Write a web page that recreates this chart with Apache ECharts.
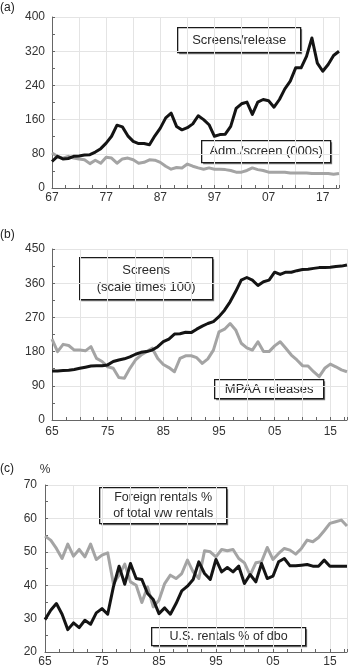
<!DOCTYPE html>
<html>
<head>
<meta charset="utf-8">
<script src="https://cdn.jsdelivr.net/npm/echarts@6/dist/echarts.min.js"></script>
<style>
  html, body { margin: 0; padding: 0; background: #fff; }
  #chart { width: 350px; height: 669px; }
</style>
</head>
<body>
<div id="chart"></div>
<script>
// (a) 1967-2020
var firstYearA = 1967
var screensPerRelease = [62, 74, 68, 69, 74, 75, 77, 78, 84, 92,
  105, 121, 147, 143, 122, 109, 104, 104, 101, 122,
  140, 164, 175, 144, 136, 141, 150, 169, 160, 148,
  121, 125, 126, 144, 186, 197, 201, 172, 201, 207,
  204, 189, 207, 232, 250, 281, 281, 308, 351, 292,
  273, 289, 310, 320]
var admPerScreen = [82, 74, 70, 74, 70, 68, 66, 57, 65, 58,
  72, 70, 58, 68, 70, 66, 58, 60, 66, 65,
  60, 51, 44, 48, 47, 56, 51, 47, 44, 47,
  44, 44, 43, 41, 37, 37, 41, 47, 43, 41,
  37, 37, 37, 37, 35, 35, 35, 35, 34, 34,
  34, 34, 32, 34]

// (b) 1965-2018
var firstYearB = 1965
var screensHundreds = [129, 129, 130, 131, 133, 136, 139, 142, 143, 143,
  145, 154, 158, 161, 166, 173, 178, 180, 184, 193,
  206, 213, 226, 227, 231, 230, 239, 247, 254, 259,
  272, 289, 311, 338, 368, 375, 368, 354, 364, 368,
  389, 383, 389, 389, 393, 396, 397, 399, 401, 401,
  402, 404, 405, 408]
var mpaaReleases = [213, 180, 199, 196, 184, 184, 182, 193, 162, 154,
  140, 136, 112, 110, 136, 158, 171, 180, 189, 162,
  146, 138, 127, 162, 169, 169, 164, 149, 161, 184,
  232, 239, 254, 237, 202, 190, 184, 206, 180, 180,
  195, 206, 189, 171, 158, 143, 142, 127, 114, 136,
  147, 140, 132, 127]

// (c) 1965-2018
var firstYearC = 1965
var foreignShare = [54.7, 53.5, 51, 48, 52.3, 48.7, 50.7, 48.5, 52.3, 47.7,
  49, 49.7, 40.5, 43, 46.3, 41, 40, 34.8, 39.5, 33.5,
  35.5, 40.5, 43, 42, 43.5, 47.5, 44, 42, 50.3, 50,
  48.5, 50.7, 50.3, 50.7, 48, 46.7, 43, 46.7, 47, 51.3,
  47.7, 49.5, 51, 50.5, 49.3, 51, 53.5, 53, 54.3, 56.3,
  58.5, 59, 59.5, 57.7]
var usShare = [29.7, 32.5, 34.5, 31.3, 26.7, 28.7, 27.3, 29.5, 28.3, 31.7,
  33, 31.3, 39.5, 45.7, 40.3, 46.5, 42, 41.7, 37.5, 35.7,
  31.5, 33.2, 31.3, 34.5, 38.3, 39.7, 41.7, 47, 43.5, 41.7,
  47.7, 44, 45.3, 44, 45.7, 40.5, 43.2, 41, 46.5, 42,
  42.7, 47, 48, 45.8, 45.8, 46, 46.2, 45.7, 45.7, 47.5,
  45.7, 45.7, 45.7, 45.7]

var yTicksA = { min: 0, max: 400, interval: 80 }
var yTicksB = { min: 0, max: 450, interval: 90 }
var yTicksC = { min: 20, max: 70, interval: 10 }

var FONT = '"Liberation Sans", Arial, sans-serif'
var BLACK = '#141414'
var GREY = '#a4a4a4'

function pairs(start, values) {
  var out = []
  for (var i = 0; i < values.length; i++) out.push([start + i, values[i]])
  return out
}

// panel (a) uses years counted from 1967, so ticks stay on multiples of 5
function offsetPairs(values) {
  var out = []
  for (var i = 0; i < values.length; i++) out.push([i, values[i]])
  return out
}

function twoDigits(y) {
  var s = String(y % 100)
  return s.length < 2 ? '0' + s : s
}

function xAxis(gridIndex, min, max, labelFn, margin) {
  return {
    type: 'value', gridIndex: gridIndex, min: min, max: max, interval: 5,
    axisLine: { onZero: false, lineStyle: { color: '#666', width: 1 } },
    axisTick: { inside: true, length: 3, lineStyle: { color: '#666' } },
    minorTick: { show: true, splitNumber: 2, length: 3, lineStyle: { color: '#666' } },
    splitLine: { show: true, lineStyle: { color: '#e4e4e4', width: 1 } },
    axisLabel: { formatter: labelFn, color: '#333', fontSize: 12, fontFamily: FONT, margin: margin }
  }
}

function yAxis(gridIndex, ticks, margin) {
  return {
    type: 'value', gridIndex: gridIndex, min: ticks.min, max: ticks.max, interval: ticks.interval,
    axisLine: { show: true, lineStyle: { color: '#666', width: 1 } },
    axisTick: { show: true, inside: true, length: 3, lineStyle: { color: '#666' } },
    minorTick: { show: true, splitNumber: 2, length: 3, lineStyle: { color: '#666' } },
    splitLine: { show: true, lineStyle: { color: '#e4e4e4', width: 1 } },
    axisLabel: { color: '#333', fontSize: 12, fontFamily: FONT, margin: margin }
  }
}

function line(name, axisIndex, data, color) {
  return {
    name: name, type: 'line', xAxisIndex: axisIndex, yAxisIndex: axisIndex,
    data: data, symbol: 'none', animation: false,
    lineStyle: { color: color, width: 3, join: 'round' },
    z: color === BLACK ? 4 : 3
  }
}

// white label box (text box with its own border) over a grey offset edge
function box(x, y, w, h, text, size) {
  return {
    type: 'group', left: x, top: y, z: 100,
    children: [
      {
        type: 'rect', shape: { x: 1.5, y: 1.5, width: w, height: h },
        style: { fill: '#7a7a7a' }
      },
      {
        type: 'rect', shape: { x: 0, y: 0, width: w, height: h },
        style: { fill: '#fff', stroke: '#1a1a1a', lineWidth: 1.3 },
        textContent: {
          style: { text: text, fill: '#2a2a2a', fontSize: size, fontFamily: FONT,
            align: 'center', lineHeight: size + 4 }
        },
        textConfig: { position: 'inside' }
      }
    ]
  }
}

function panelLabel(x, y, text) {
  return { type: 'text', left: x, top: y, style: { text: text, fill: '#222', font: '12px ' + FONT } }
}

var chart = echarts.init(document.getElementById('chart'), null, { renderer: 'canvas' })

chart.setOption({
  backgroundColor: '#fff',
  animation: false,
  grid: [
    { left: 52, top: 17, width: 287, height: 171 },
    { left: 52, top: 249, width: 296, height: 171 },
    { left: 45, top: 485, width: 304, height: 167 }
  ],
  xAxis: [
    xAxis(0, 0, screensPerRelease.length - 1, function(v) {
      return v % 10 === 0 ? twoDigits(firstYearA + v) : ''
    }, 4),
    xAxis(1, firstYearB, firstYearB + screensHundreds.length - 1, function(v) {
      return (v - firstYearB) % 10 === 0 ? twoDigits(v) : ''
    }, 6),
    xAxis(2, firstYearC, firstYearC + foreignShare.length - 1, function(v) {
      return (v - firstYearC) % 10 === 0 ? twoDigits(v) : ''
    }, 4)
  ],
  yAxis: [
    yAxis(0, yTicksA, 7),
    yAxis(1, yTicksB, 7),
    Object.assign(yAxis(2, yTicksC, 8), {
      name: '%', nameLocation: 'end', nameGap: 9,
      nameTextStyle: { color: '#333', fontSize: 12, fontFamily: FONT }
    })
  ],
  series: [
    line('Adm./screen (000s)', 0, offsetPairs(admPerScreen), GREY),
    line('Screens/release', 0, offsetPairs(screensPerRelease), BLACK),
    line('MPAA releases', 1, pairs(firstYearB, mpaaReleases), GREY),
    line('Screens (scale times 100)', 1, pairs(firstYearB, screensHundreds), BLACK),
    line('Foreign rentals % of total ww rentals', 2, pairs(firstYearC, foreignShare), GREY),
    line('U.S. rentals % of dbo', 2, pairs(firstYearC, usShare), BLACK)
  ],
  graphic: [
    panelLabel(0, 2, '(a)'),
    panelLabel(0, 229, '(b)'),
    panelLabel(0, 463, '(c)'),
    box(177, 27, 123, 25, 'Screens/release', 13),
    box(201, 140, 129, 22, 'Adm./screen (000s)', 13),
    box(79, 257, 133, 42, 'Screens\n(scale times 100)', 13),
    box(214, 379, 109, 19, 'MPAA releases', 13),
    box(99, 487, 127, 36, 'Foreign rentals %\nof total ww rentals', 12.5),
    box(151, 627, 154, 18, 'U.S. rentals % of dbo', 12.5)
  ]
})
</script>
</body>
</html>
